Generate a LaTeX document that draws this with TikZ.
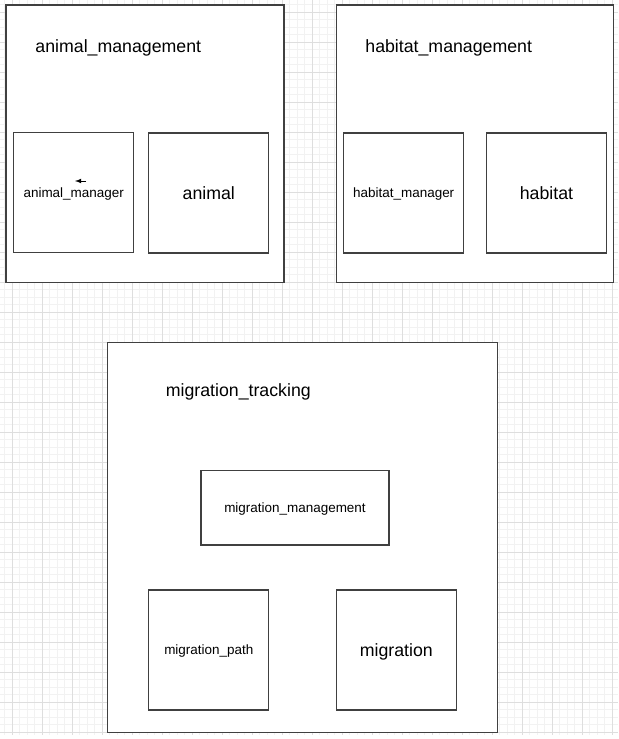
\documentclass[tikz,border=0pt]{standalone}
\usepackage{fontspec}
\setmainfont{Liberation Sans}
\usepackage{tikz}

\begin{document}
\begin{tikzpicture}[x=0.75pt,y=-0.75pt,
    pkg/.style={draw=black!75,line width=0.8pt,fill=white},
    cls/.style={draw=black!75,line width=0.8pt,fill=white,minimum width=90pt,minimum height=90pt,inner sep=0pt,text depth=0pt,font=\fontsize{10.1}{12}\selectfont},
    bigcls/.style={cls,font=\fontsize{13.3}{16}\selectfont},
    title/.style={anchor=base,inner sep=0pt,font=\fontsize{13.3}{16}\selectfont}]
    \useasboundingbox (0,0) rectangle (618,739);
    % background grid
    \fill[white] (0,0) rectangle (618,739);
    \foreach \k in {-1,...,80}
      \draw[black!5,line width=0.6pt] ({12.3+7.5*\k},0) -- ({12.3+7.5*\k},734.5);
    \foreach \k in {-1,...,96}
      \draw[black!5,line width=0.6pt] (0,{12.3+7.5*\k}) -- (618,{12.3+7.5*\k});
    \foreach \k in {0,...,20}
      \draw[black!13,line width=0.6pt] ({12.3+30*\k},0) -- ({12.3+30*\k},734.5);
    \foreach \k in {0,...,24}
      \draw[black!13,line width=0.6pt] (0,{12.3+30*\k}) -- (618,{12.3+30*\k});

    % packages
    \node [pkg,minimum width=208.5pt,minimum height=208.2pt] (animalpkg) at (145,143.8) {};
    \node [pkg,minimum width=208.2pt,minimum height=208.2pt] (habitatpkg) at (475,143.8) {};
    \node [pkg,minimum width=292.8pt,minimum height=292.2pt] (migrationpkg) at (302.5,537.5) {};

    \node [title] (animaltitle) at (118.3,52.5) {animal\_management};
    \node [title] (habitattitle) at (448.7,52.5) {habitat\_management};
    \node [title] (migrationtitle) at (238.3,396.5) {migration\_tracking};

    % classes
    \node [cls] (animalmgr) at (73.7,192.8) {animal\_manager};
    \node [bigcls] (animal) at (208.8,193) {animal};
    \node [cls] (habitatmgr) at (403.7,193) {habitat\_manager};
    \node [bigcls] (habitat) at (546.5,193) {habitat};
    \node [cls,minimum width=141pt,minimum height=56.2pt] (migrationmgmt) at (295,507.5) {migration\_management};
    \node [cls] (migrationpath) at (208.8,650) {migration\_path};
    \node [bigcls] (migration) at (396.3,650) {migration};

    % stray arrow
    \coordinate (arrowtail) at (86,181);
    \coordinate (arrowtip) at (75,181);
    \draw [-latex,line width=0.6pt] (arrowtail) -- (arrowtip);
\end{tikzpicture}
\end{document}
